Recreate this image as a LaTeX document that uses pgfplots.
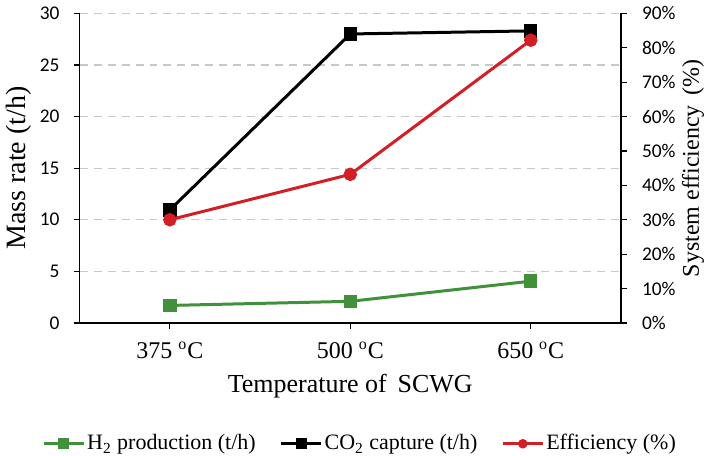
\documentclass[border=0pt]{standalone}
\usepackage{fontspec}
\setmainfont{Liberation Serif}
\newfontfamily\carlito{Carlito}
\usepackage{pgfplots}
\pgfplotsset{compat=1.18}

\definecolor{hgreen}{RGB}{64,145,58}
\definecolor{effred}{RGB}{210,30,38}
\definecolor{gridgray}{RGB}{200,200,200}

\begin{document}
\begin{tikzpicture}
\pgfplotsset{
  every axis/.append style={
    scale only axis, width=271pt, height=155pt,
    xmin=-0.5, xmax=2.5,
    tick align=outside, major tick length=3pt,
    tick style={black, line width=0.6pt},
    axis line style={black, line width=0.8pt},
    /pgf/number format/assume math mode=true,
  },
}
% Left axis: mass rates
\begin{axis}[
  axis x line*=bottom, axis y line*=left,
  ymin=0, ymax=30, ytick={0,5,...,30},
  xtick={0,1,2},
  xticklabels={375 \textsuperscript{o}C, 500 \textsuperscript{o}C, 650 \textsuperscript{o}C},
  xticklabel style={font=\fontsize{12}{14}\selectfont, yshift=-3pt},
  yticklabel style={font=\carlito\fontsize{9.7}{12}\selectfont, xshift=-3.5pt},
  ymajorgrids, grid style={gridgray, dash pattern=on 4pt off 3pt, line width=0.6pt},
  xlabel={Temperature of\, SCWG},
  xlabel style={font=\fontsize{13}{15}\selectfont, yshift=-1pt},
  ylabel={Mass rate (t/h)},
  ylabel style={font=\fontsize{14}{16}\selectfont, inner sep=3pt,
    at={(axis description cs:-0.1125,0.5)}, anchor=center},
]
\addplot[hgreen, line width=1.5pt, mark=square*, mark size=2.6pt] coordinates {(0,1.7) (1,2.1) (2,4.05)};
\addplot[black, line width=1.5pt, mark=square*, mark size=2.6pt] coordinates {(0,10.95) (1,28.0) (2,28.3)};
\end{axis}
% Right axis: system efficiency
\begin{axis}[
  axis x line=none, axis y line*=right,
  ymin=0, ymax=90, ytick={0,10,...,90},
  yticklabel={\hspace{4pt}\pgfmathprintnumber{\tick}\%},
  yticklabel style={font=\carlito\fontsize{9.7}{12}\selectfont, anchor=west},
  ylabel={System efficiency\, (\%)},
  ylabel style={font=\fontsize{12}{14}\selectfont, inner sep=3pt,
    at={(axis description cs:1.133,0.5)}, anchor=center},
  legend style={at={(0.518,-0.39)}, anchor=center, draw=none, fill=none,
    inner sep=0pt, font=\fontsize{11}{13}\selectfont,
    nodes={inner xsep=1pt, inner ysep=1.5pt},
    /tikz/every even column/.append style={column sep=11pt}},
  legend columns=3,
  legend image code/.code={
    \draw[#1, mark repeat=2, mark phase=2] plot coordinates {(0pt,0pt) (10pt,0pt) (20pt,0pt)};},
]
\addlegendimage{hgreen, line width=1.5pt, mark=square*, mark size=2pt}
\addlegendentry{H\textsubscript{2} production (t/h)}
\addlegendimage{black, line width=1.5pt, mark=square*, mark size=2pt}
\addlegendentry{CO\textsubscript{2} capture (t/h)}
\addplot[effred, line width=1.5pt, mark=*, mark size=2.6pt,
  every legend image post/.style={mark size=1.6pt}] coordinates {(0,30.0) (1,43.2) (2,82.2)};
\addlegendentry{Efficiency (\%)}
\end{axis}
\end{tikzpicture}
\end{document}
